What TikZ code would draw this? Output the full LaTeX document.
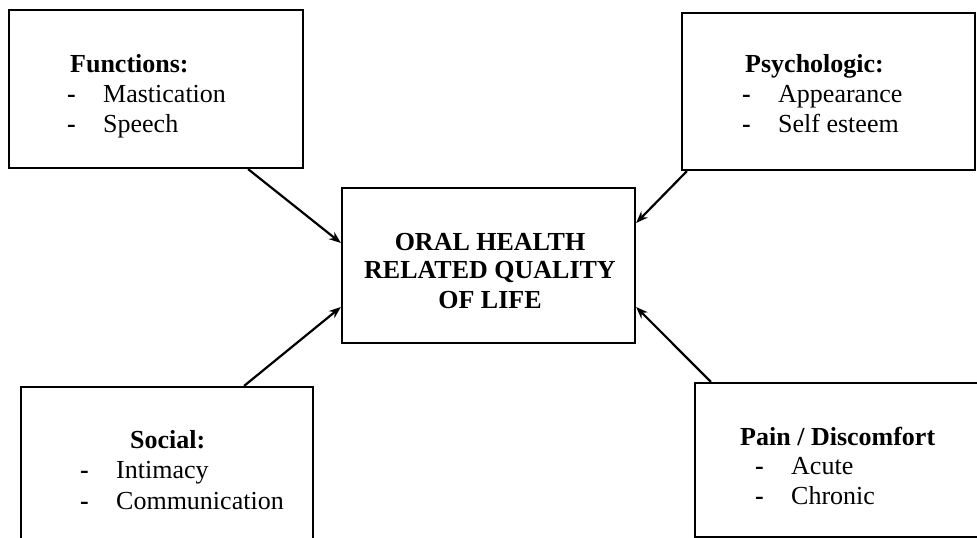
\documentclass[tikz,border=0pt]{standalone}
\usepackage{fontspec}
\setmainfont{Liberation Serif}
\usetikzlibrary{arrows.meta}
\newcommand{\itm}[1]{\makebox[36pt][l]{\textbf{-}}#1}
\begin{document}
\begin{tikzpicture}[x=1pt,y=-1pt,
  box/.style={draw,line width=2.2pt,inner sep=0pt,rectangle},
  txt/.style={inner sep=0pt,anchor=base west,font=\fontsize{26}{30}\selectfont},
  hdr/.style={txt,font=\fontsize{26}{30}\selectfont\bfseries},
  ctr/.style={inner sep=0pt,anchor=base,font=\fontsize{26}{30}\selectfont\bfseries},
  arr/.style={line width=2.2pt,-{Stealth[length=12pt,width=9pt]}}]
\clip (0,0) rectangle (977,538);
\fill[white] (0,0) rectangle (977,538);
% boxes
\node[box,minimum width=294pt,minimum height=158pt] (func) at (156,89) {};
\node[box,minimum width=293pt,minimum height=157pt] (psy) at (828.5,91.5) {};
\node[box,minimum width=293pt,minimum height=155pt] (ohq) at (488.5,265.5) {};
\node[box,minimum width=292pt,minimum height=163pt] (soc) at (167,468.5) {};
\node[box,minimum width=295pt,minimum height=154pt] (pain) at (842.5,460) {};
% texts
\node[hdr] (funch) at (70,72) {Functions:};
\node[txt] (func1) at (67,102) {\itm{Mastication}};
\node[txt] (func2) at (67,132) {\itm{Speech}};
\node[hdr] (psyh) at (745,72) {Psychologic:};
\node[txt] (psy1) at (742,102) {\itm{Appearance}};
\node[txt] (psy2) at (742,132) {\itm{Self esteem}};
\node[ctr] (ohq1) at (490,250) {ORAL HEALTH};
\node[ctr] (ohq2) at (490,278) {RELATED QUALITY};
\node[ctr] (ohq3) at (490,308) {OF LIFE};
\node[hdr] (soch) at (130,448) {Social:};
\node[txt] (soc1) at (80,478) {\itm{Intimacy}};
\node[txt] (soc2) at (80,509) {\itm{Communication}};
\node[hdr] (painh) at (740,445) {Pain / Discomfort};
\node[txt] (pain1) at (755,474) {\itm{Acute}};
\node[txt] (pain2) at (755,504) {\itm{Chronic}};
% arrows
\draw[arr] ([xshift=-56pt]func.south east) -- ([yshift=22.5pt]ohq.west);
\draw[arr] ([xshift=6pt]psy.south west) -- ([yshift=42.5pt]ohq.east);
\draw[arr] ([xshift=-70pt]soc.north east) -- ([yshift=-41.5pt]ohq.west);
\draw[arr] ([xshift=17pt]pain.north west) -- ([yshift=-41.5pt]ohq.east);
\end{tikzpicture}
\end{document}
